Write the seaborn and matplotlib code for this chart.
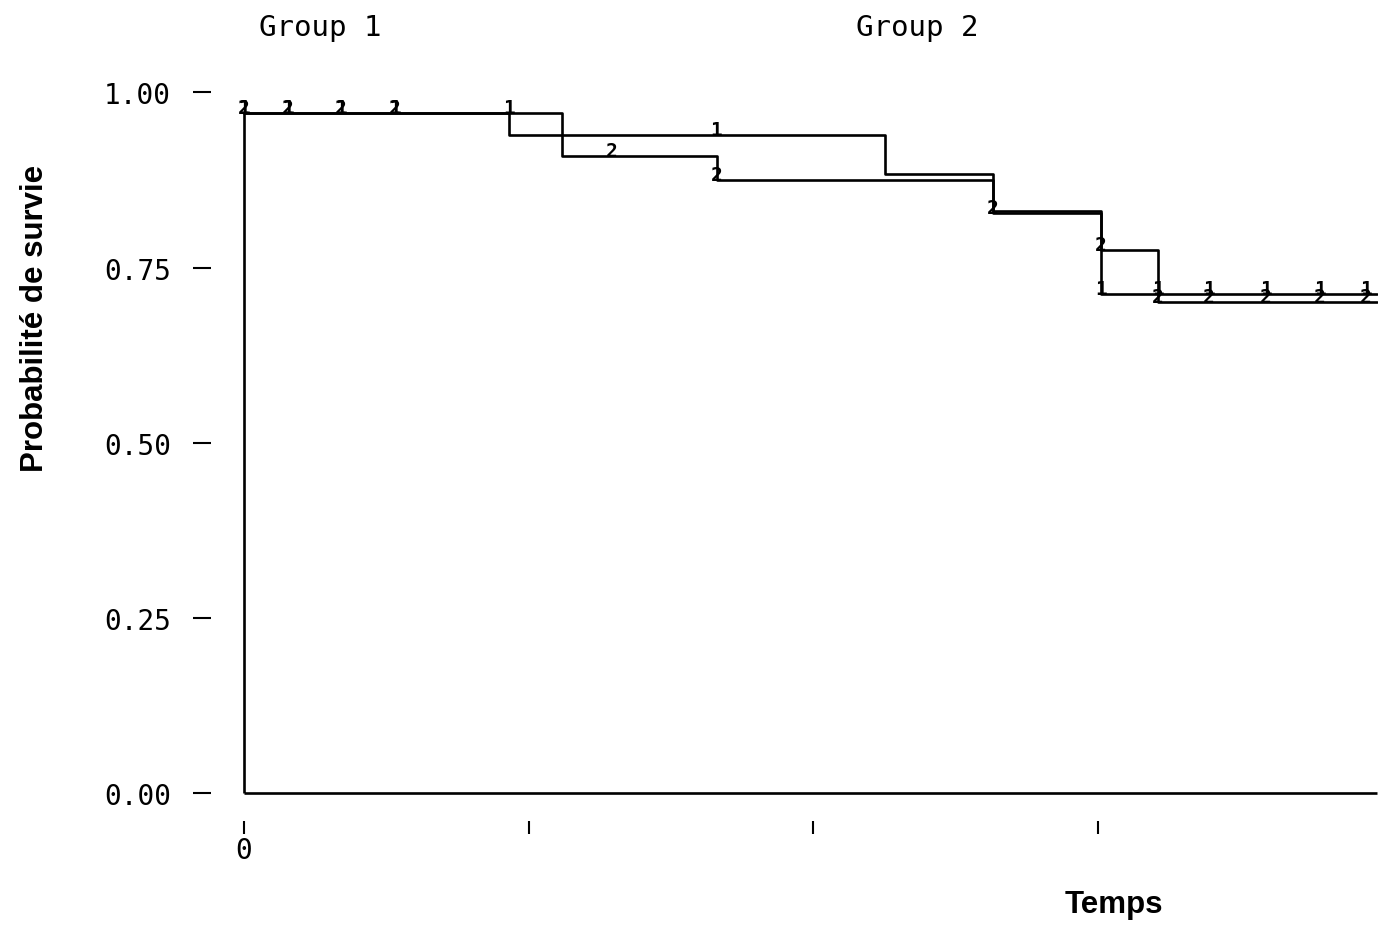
import matplotlib
matplotlib.use('Agg')
import matplotlib.pyplot as plt
import pandas as pd
import seaborn as sns

# Kaplan-Meier steps (time in units of one x tick)
time_g1 = [0.0, 0.93, 2.25, 2.63, 3.01, 3.98]
surv_g1 = [0.971, 0.939, 0.884, 0.831, 0.712, 0.712]
time_g2 = [0.0, 1.117, 1.66, 2.63, 3.01, 3.21, 3.98]
surv_g2 = [0.971, 0.909, 0.875, 0.828, 0.775, 0.701, 0.701]

# censoring marks (plotted as the group digit)
cens_t_g1 = [0.0, 0.155, 0.34, 0.53, 0.93, 1.66, 3.01, 3.21, 3.39, 3.59, 3.78, 3.94]
cens_s_g1 = [0.971, 0.971, 0.971, 0.971, 0.971, 0.939, 0.712, 0.712, 0.712, 0.712, 0.712, 0.712]
cens_t_g2 = [0.0, 0.155, 0.34, 0.53, 1.29, 1.66, 2.63, 3.01, 3.21, 3.39, 3.59, 3.78, 3.94]
cens_s_g2 = [0.971, 0.971, 0.971, 0.971, 0.909, 0.875, 0.828, 0.775, 0.701, 0.701, 0.701, 0.701, 0.701]

y_ticks = [0.0, 0.25, 0.5, 0.75, 1.0]
y_ticklabels = ['0.00', '0.25', '0.50', '0.75', '1.00']
x_ticks = [0, 1, 2, 3]
x_ticklabels = ['0', '', '', '']

df = pd.concat([
    pd.DataFrame({'Temps': time_g1, 'Survie': surv_g1, 'Groupe': '1'}),
    pd.DataFrame({'Temps': time_g2, 'Survie': surv_g2, 'Groupe': '2'}),
])

sns.set_style('white')
plt.rcParams.update({
    'text.color': 'black',
    'axes.labelcolor': 'black',
    'xtick.color': 'black',
    'ytick.color': 'black',
})
mono = 'DejaVu Sans Mono'
bold = 'Liberation Sans'

fig = plt.figure(figsize=(13.78, 9.28), dpi=100)
ax = fig.add_axes([0.1655, 0.1293, 0.8345, 0.8077])

sns.lineplot(data=df, x='Temps', y='Survie', hue='Groupe',
             palette={'1': 'black', '2': 'black'},
             drawstyle='steps-post', estimator=None, legend=False,
             lw=1.9, ax=ax)

# frame lines drawn as in the original plot
ax.vlines(time_g1[0], 0, surv_g1[0], color='black', lw=1.9)
ax.hlines(0, time_g1[0], time_g1[-1], color='black', lw=1.9)

for t, s in zip(cens_t_g1, cens_s_g1):
    ax.text(t, s, '1', ha='center', va='baseline', fontsize=14,
            fontweight='bold', family=mono)
for t, s in zip(cens_t_g2, cens_s_g2):
    ax.text(t, s, '2', ha='center', va='baseline', fontsize=14,
            fontweight='bold', family=mono)

ax.set_xlim(-0.056, 3.983)
ax.set_ylim(-0.02, 1.05)

for side in ['top', 'right', 'left', 'bottom']:
    ax.spines[side].set_visible(False)
ax.spines['left'].set_position(('outward', 12))
ax.spines['bottom'].set_position(('outward', 10))

ax.set_yticks(y_ticks)
ax.set_yticklabels(y_ticklabels, family=mono, fontsize=20)
ax.set_xticks(x_ticks)
ax.set_xticklabels(x_ticklabels, family=mono, fontsize=20)
ax.tick_params(axis='y', length=13, width=1.5, pad=16, direction='out', left=True)
ax.tick_params(axis='x', length=9, width=1.5, pad=2, direction='out', bottom=True)
ax.set_xlabel('')
ax.set_ylabel('')

fig.text(320 / 1378, 1 - 28 / 928, 'Group 1', ha='center', va='center',
         family=mono, fontsize=21)
fig.text(917 / 1378, 1 - 28 / 928, 'Group 2', ha='center', va='center',
         family=mono, fontsize=21)
fig.text(1114 / 1378, 1 - 905 / 928, 'Temps', ha='center', va='center',
         family=bold, fontweight='bold', fontsize=22.5)
fig.text(35 / 1378, 1 - 318 / 928, 'Probabilité de survie', ha='center', va='center',
         rotation=90, family=bold, fontweight='bold', fontsize=22.5)

fig.savefig('out.png', dpi=100)
